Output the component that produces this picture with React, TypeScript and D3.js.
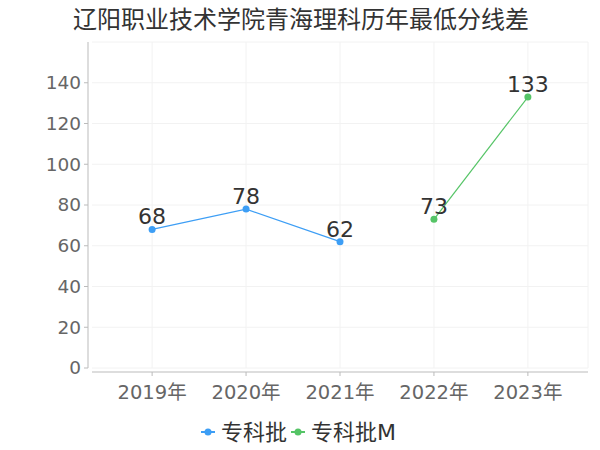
import React from "react";
import * as d3 from "d3";

const title = "辽阳职业技术学院青海理科历年最低分线差";
const years = ["2019年", "2020年", "2021年", "2022年", "2023年"];
const seriesA = { name: "专科批", color: "#3d9ef5", points: [["2019年", 68], ["2020年", 78], ["2021年", 62]] as [string, number][] };
const seriesB = { name: "专科批M", color: "#55c466", points: [["2022年", 73], ["2023年", 133]] as [string, number][] };
const yTicks = [0, 20, 40, 60, 80, 100, 120, 140];
const yGrid = [0, 20, 40, 60, 80, 100, 120, 140, 160];

const font = "'DejaVu Sans', 'Noto Sans CJK SC', sans-serif";

export default function App() {
    const width = 600;
    const height = 450;
    const left = 92;
    const right = 588;
    const top = 42;
    const bottom = 368;

    const x = d3.scalePoint<string>().domain(years).range([left, right]).padding(0.64);
    const y = d3.scaleLinear().domain([0, 160]).range([bottom, top]);
    const line = d3.line<[string, number]>().x((d) => x(d[0])!).y((d) => y(d[1]));

    const series = [seriesA, seriesB];

    return (
        <svg width={width} height={height} style={{ position: "absolute", left: 0, top: 0, background: "#fff" }} fontFamily={font}>
            <text x={301} y={28} textAnchor="middle" fontSize={24} fill="#333">{title}</text>

            {/* grid */}
            {yGrid.map((t) => (
                <line key={"h" + t} x1={left} x2={right} y1={y(t)} y2={y(t)} stroke="#f2f2f2" />
            ))}
            {years.map((yr) => (
                <line key={"v" + yr} x1={x(yr)} x2={x(yr)} y1={top} y2={bottom} stroke="#f2f2f2" />
            ))}
            <line x1={right} x2={right} y1={top} y2={bottom} stroke="#f2f2f2" />

            {/* y axis */}
            <line x1={88} x2={88} y1={top} y2={bottom} stroke="#bbb" />
            {yTicks.map((t) => (
                <g key={"yt" + t}>
                    <line x1={84} x2={88} y1={y(t)} y2={y(t)} stroke="#bbb" />
                    <text x={81} y={y(t)} dy="0.35em" textAnchor="end" fontSize={18.5} fill="#666">{t}</text>
                </g>
            ))}

            {/* x axis */}
            <line x1={left} x2={right} y1={372} y2={372} stroke="#bbb" />
            {years.map((yr) => (
                <g key={"xt" + yr}>
                    <line x1={x(yr)} x2={x(yr)} y1={372} y2={376} stroke="#bbb" />
                    <text x={x(yr)} y={399} textAnchor="middle" fontSize={19.5} fill="#666">{yr}</text>
                </g>
            ))}

            {/* series */}
            {series.map((s) => (
                <g key={s.name}>
                    <path d={line(s.points)!} fill="none" stroke={s.color} strokeWidth={1.2} />
                    {s.points.map((p) => (
                        <g key={p[0]}>
                            <circle cx={x(p[0])} cy={y(p[1])} r={3.5} fill={s.color} />
                            <text x={x(p[0])} y={y(p[1]) - 5} textAnchor="middle" fontSize={22} fill="#333">{p[1]}</text>
                        </g>
                    ))}
                </g>
            ))}

            {/* legend */}
            <g>
                <line x1={201} x2={215} y1={432} y2={432} stroke={seriesA.color} strokeWidth={2} />
                <circle cx={208} cy={432} r={3.5} fill={seriesA.color} />
                <text x={221} y={432} dy="0.35em" fontSize={22} fill="#333">{seriesA.name}</text>
                <line x1={291} x2={305} y1={432} y2={432} stroke={seriesB.color} strokeWidth={2} />
                <circle cx={298} cy={432} r={3.5} fill={seriesB.color} />
                <text x={311} y={432} dy="0.35em" fontSize={22} fill="#333">{seriesB.name}</text>
            </g>
        </svg>
    );
}
